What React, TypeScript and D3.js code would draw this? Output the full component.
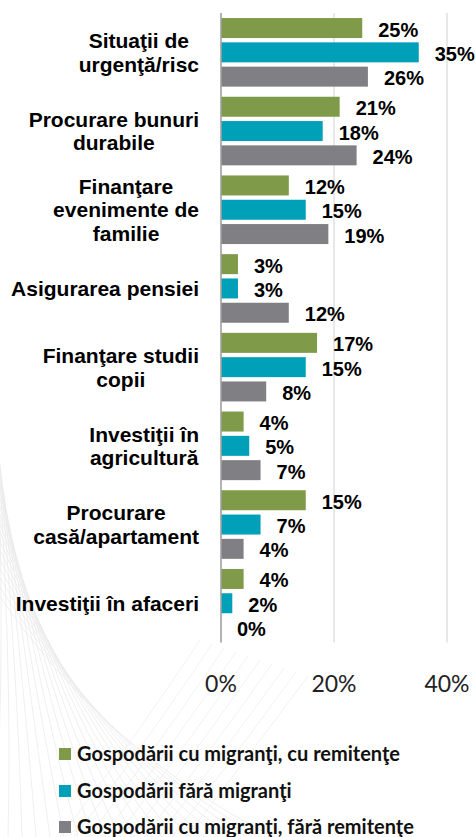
import React, { useEffect, useRef } from "react";
import * as d3 from "d3";

const categories: string[][] = [
  ["Situaţii de", "urgenţă/risc"],
  ["Procurare bunuri", "durabile"],
  ["Finanţare", "evenimente de", "familie"],
  ["Asigurarea pensiei"],
  ["Finanţare studii", "copii"],
  ["Investiţii în", "agricultură"],
  ["Procurare", "casă/apartament"],
  ["Investiţii în afaceri"],
];

const seriesNames = [
  "Gospodării cu migranţi, cu remitenţe",
  "Gospodării fără migranţi",
  "Gospodării cu migranţi, fără remitenţe",
];

const withRemittances = [25, 21, 12, 3, 17, 4, 15, 4];
const withoutMigrants = [35, 18, 15, 3, 15, 5, 7, 2];
const migrantsNoRemittances = [26, 24, 19, 12, 8, 7, 4, 0];

const xTicks = [0, 20, 40];

const colors = ["#7F9A48", "#00A0B8", "#808084"];

export default function App() {
  const ref = useRef<SVGSVGElement | null>(null);

  useEffect(() => {
    const svg = d3.select(ref.current);
    svg.selectAll("*").remove();

    const H = 837;
    const x0 = 221;
    const x40 = 447;
    const top = 13;
    const bottom = 642.6;

    // decorative background lines
    const deco = svg.append("g");
    for (let i = 0; i < 22; i++) {
      const sx = -20 + i * 14;
      const ey = 380 + i * 10;
      deco
        .append("path")
        .attr("d", `M${sx},${H} Q${sx * 0.35 + 10},${(ey + H) / 2 + 40} ${-5},${ey}`)
        .attr("fill", "none")
        .attr("stroke", "#ebebeb")
        .attr("stroke-width", 0.8);
    }
    for (let i = 0; i < 10; i++) {
      const sx = 60 + i * 14;
      deco
        .append("path")
        .attr("d", `M${sx},${H} Q${sx + 60},${760} ${200 + i * 12},${640 + i * 4}`)
        .attr("fill", "none")
        .attr("stroke", "#efefef")
        .attr("stroke-width", 0.8);
    }

    const x = d3.scaleLinear().domain([0, 40]).range([x0, x40]);
    const idx = categories.map((_, i) => i);
    const y = d3.scaleBand<number>().domain(idx).range([top, bottom]).paddingInner(0).paddingOuter(0);
    const yInner = d3
      .scaleBand<number>()
      .domain([0, 1, 2])
      .range([0, y.bandwidth()])
      .paddingInner(0.177)
      .paddingOuter(0.208);

    // gridlines
    svg
      .append("g")
      .selectAll("line")
      .data(xTicks.filter((t) => t > 0))
      .join("line")
      .attr("x1", (d) => x(d))
      .attr("x2", (d) => x(d))
      .attr("y1", top)
      .attr("y2", bottom)
      .attr("stroke", "#d9d9d9")
      .attr("stroke-width", 1.2);

    const series = [withRemittances, withoutMigrants, migrantsNoRemittances];

    // bars
    series.forEach((vals, s) => {
      svg
        .append("g")
        .selectAll("rect")
        .data(vals)
        .join("rect")
        .attr("x", x(0))
        .attr("y", (_, i) => (y(i) as number) + (yInner(s) as number))
        .attr("width", (d) => x(d) - x(0))
        .attr("height", yInner.bandwidth())
        .attr("fill", colors[s]);
      svg
        .append("g")
        .selectAll("text")
        .data(vals)
        .join("text")
        .attr("x", (d) => x(d) + 16)
        .attr("y", (_, i) => (y(i) as number) + (yInner(s) as number) + yInner.bandwidth() / 2 + 8.5)
        .attr("font-family", "'Liberation Sans', Arial, sans-serif")
        .attr("font-weight", "bold")
        .attr("font-size", 20)
        .attr("fill", "#000")
        .text((d) => `${d}%`);
    });

    // axis line
    svg
      .append("line")
      .attr("x1", x(0))
      .attr("x2", x(0))
      .attr("y1", top)
      .attr("y2", bottom)
      .attr("stroke", "#a0a0a0")
      .attr("stroke-width", 1.6);

    // category labels
    const lineH = 23.7;
    const rightEdge = 199;
    categories.forEach((lines, i) => {
      const g = svg.append("g");
      const cy = (y(i) as number) + y.bandwidth() / 2;
      const texts = g
        .selectAll("text")
        .data(lines)
        .join("text")
        .attr("font-family", "'Liberation Sans', Arial, sans-serif")
        .attr("font-weight", "bold")
        .attr("font-size", 21)
        .attr("fill", "#000")
        .attr("text-anchor", "middle")
        .attr("y", (_, k) => cy + (k - (lines.length - 1) / 2) * lineH + 7.5)
        .text((d) => d);
      let maxW = 0;
      texts.each(function () {
        const w = (this as SVGTextElement).getComputedTextLength();
        if (w > maxW) maxW = w;
      });
      texts.attr("x", rightEdge - maxW / 2);
    });

    // tick labels
    svg
      .append("g")
      .selectAll("text")
      .data(xTicks)
      .join("text")
      .attr("x", (d) => x(d))
      .attr("y", 692)
      .attr("text-anchor", "middle")
      .attr("font-family", "Lato, 'Open Sans', sans-serif")
      .attr("font-size", 23)
      .attr("fill", "#222")
      .text((d) => `${d}%`);

    // legend
    const legendY = [754, 791, 827];
    const lg = svg.append("g");
    seriesNames.forEach((name, s) => {
      lg.append("rect")
        .attr("x", 59)
        .attr("y", legendY[s] - 6)
        .attr("width", 12)
        .attr("height", 12)
        .attr("fill", colors[s]);
      lg.append("text")
        .attr("x", 77)
        .attr("y", legendY[s] + 6.5)
        .attr("font-family", "Lato, 'Open Sans', sans-serif")
        .attr("font-weight", "bold")
        .attr("font-size", 20)
        .attr("fill", "#111")
        .text(name);
    });
  }, []);

  return (
    <div style={{ position: "absolute", left: 0, top: 0 }}>
      <svg ref={ref} width={475} height={837} style={{ display: "block", background: "#fff" }} />
    </div>
  );
}
